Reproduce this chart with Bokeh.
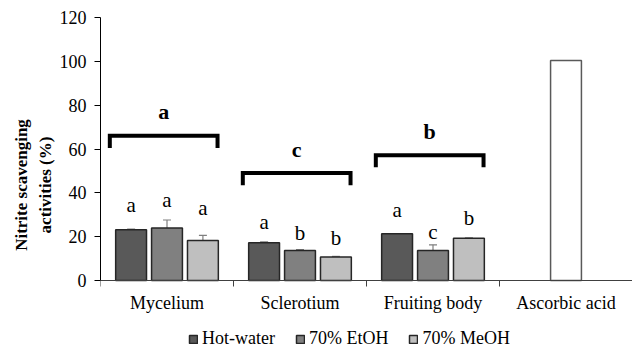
from bokeh.plotting import figure
from bokeh.models import (Range1d, FixedTicker, ColumnDataSource, Whisker, Legend, LegendItem,
                          TeeHead, Title)
from bokeh.core.properties import value
from bokeh.embed import file_html
from bokeh.resources import INLINE

# ---- data ----
categories = ["Mycelium", "Sclerotium", "Fruiting body", "Ascorbic acid"]
series = ["Hot-water", "70% EtOH", "70% MeOH"]
hot_water = [23.1, 17.2, 21.3]
hot_water_err = [0.4, 0.4, 0.0]
etoh = [24.0, 13.7, 13.7]
etoh_err = [3.6, 0.4, 2.6]
meoh = [18.3, 10.7, 19.3]
meoh_err = [2.3, 0.3, 0.0]
ascorbic = [100.4]
hot_letters = ["a", "a", "a"]
etoh_letters = ["a", "b", "c"]
meoh_letters = ["a", "b", "b"]
hot_letter_y = [31.2, 23.6, 28.9]
etoh_letter_y = [33.4, 18.3, 19.0]
meoh_letter_y = [29.7, 16.4, 25.1]
group_letters = ["a", "c", "b"]
group_bracket_y = [66.0, 49.0, 57.2]
y_ticks = [0, 20, 40, 60, 80, 100, 120]
y_title_lines = ["Nitrite scavenging", "activities (%)"]

FONT = "Liberation Serif"
colors = ["#595959", "#808080", "#bfbfbf"]
offsets = [-0.27, 0.0, 0.27]
bar_w = 0.232

W, H = 632, 352
TOP, LEFT = 17, 100
ZERO_PX = 280                      # screen row of value 0
PX_PER_UNIT = (ZERO_PX - TOP) / 120.0
y_start = -(H - ZERO_PX) / PX_PER_UNIT

p = figure(width=W, height=H, output_backend="svg", toolbar_location=None,
           x_range=Range1d(0, 4.0), y_range=Range1d(y_start, 120),
           x_axis_location=None,
           min_border_left=LEFT, min_border_top=TOP, min_border_right=0, min_border_bottom=0)
p.xgrid.visible = False
p.ygrid.visible = False
p.outline_line_color = None

renderers = []
vals = [hot_water, etoh, meoh]
errs = [hot_water_err, etoh_err, meoh_err]
letters = [hot_letters, etoh_letters, meoh_letters]
letter_ys = [hot_letter_y, etoh_letter_y, meoh_letter_y]
for i in range(3):
    xs = [k + 0.5 + offsets[i] for k in range(3)]
    src = ColumnDataSource(dict(x=xs, top=vals[i],
                                upper=[v + e for v, e in zip(vals[i], errs[i])],
                                lower=[v - e for v, e in zip(vals[i], errs[i])],
                                lab=letters[i], ly=letter_ys[i]))
    r = p.vbar(x="x", top="top", width=bar_w, source=src, fill_color=colors[i],
               line_color="#262626", line_width=1.5)
    renderers.append(r)
    w = Whisker(base="x", upper="upper", lower="lower", source=src,
                line_color="#7f7f7f", line_width=1.2,
                upper_head=TeeHead(size=8, line_color="#7f7f7f", line_width=1.2),
                lower_head=TeeHead(size=8, line_color="#7f7f7f", line_width=1.2))
    p.add_layout(w)
    p.text(x="x", y="ly", text="lab", source=src, text_font=value(FONT),
           text_font_size="21px", text_align="center", text_baseline="alphabetic",
           y_offset=-7, text_color="black")

# ascorbic acid
p.vbar(x=[3.5], top=ascorbic, width=bar_w, fill_color="white",
       line_color="#595959", line_width=1.5)

# group brackets
bl, br, leg = -0.43, 0.38, 5.5
bx, by = [], []
for k, top in enumerate(group_bracket_y):
    c = k + 0.5
    bx.append([c + bl, c + bl, c + br, c + br])
    by.append([top - leg, top, top, top - leg])
p.multi_line(xs=bx, ys=by, line_color="black", line_width=4, line_join="miter")
p.text(x=[k + 0.5 + (bl + br) / 2 for k in range(3)], y=group_bracket_y, text=group_letters,
       text_font=value(FONT), text_font_size="22px", text_font_style="bold",
       text_align="center", text_baseline="alphabetic", y_offset=-24, text_color="black")

# category axis drawn at value 0
ncat = len(categories)
p.segment(x0=[0], y0=[0], x1=[ncat], y1=[0], line_color="#404040", line_width=1)
tick_len = 6 / PX_PER_UNIT
p.segment(x0=list(range(ncat + 1)), y0=[0] * (ncat + 1), x1=list(range(ncat + 1)),
          y1=[-tick_len] * (ncat + 1), line_color="#404040", line_width=1)
p.text(x=[k + 0.5 for k in range(ncat)], y=[0] * ncat, text=categories,
       text_font=value(FONT), text_font_size="18px", text_align="center",
       text_baseline="top", y_offset=12, text_color="black")

# y axis
p.yaxis.ticker = FixedTicker(ticks=y_ticks, minor_ticks=[])
p.yaxis.bounds = (0, 120)
p.yaxis.major_tick_out = 6
p.yaxis.major_tick_in = 0
p.yaxis.axis_line_color = "black"
p.yaxis.major_tick_line_color = "black"
p.yaxis.major_label_standoff = 8
p.yaxis.major_label_text_font = FONT
p.yaxis.major_label_text_font_size = "18px"
p.yaxis.major_label_text_color = "black"

# two-line y title, moved up to sit centred on the 0..120 span
title_shift = 57
for txt in reversed(y_title_lines):
    p.add_layout(Title(text=txt, align="center", offset=title_shift, standoff=3,
                       text_font=FONT, text_font_size="17px", text_font_style="bold",
                       text_color="black"), "left")

legend = Legend(items=[LegendItem(label=series[i], renderers=[renderers[i]]) for i in range(3)],
                orientation="horizontal", location=(88, 3),
                label_text_font=FONT, label_text_font_size="18px", label_text_color="black",
                glyph_width=10, glyph_height=10, label_standoff=4, spacing=20,
                padding=0, margin=0, border_line_color=None, background_fill_alpha=0)
p.add_layout(legend, "center")

open("out.html", "w").write(file_html(p, INLINE))
